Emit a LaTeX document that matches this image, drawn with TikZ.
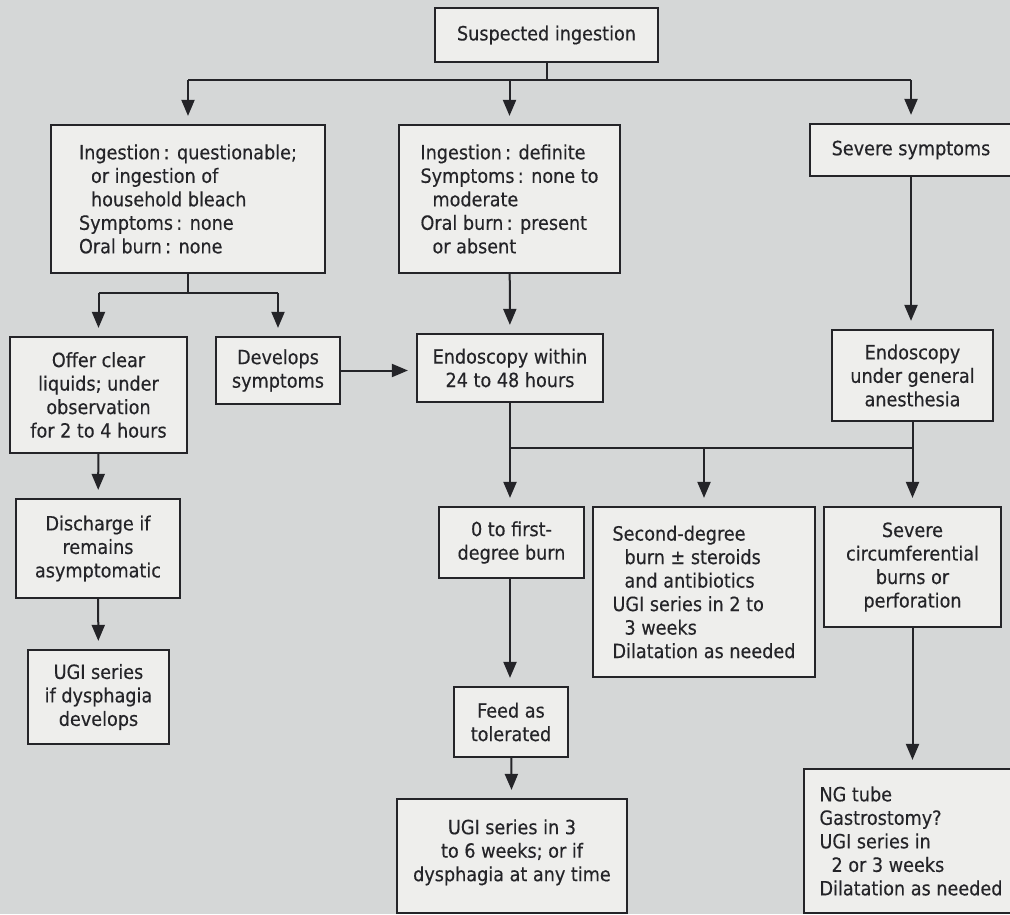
\documentclass[tikz,border=0pt]{standalone}
\usepackage{fontspec}
\setmainfont{DejaVu Sans Condensed}
\usetikzlibrary{arrows.meta}
\definecolor{paper}{RGB}{213,215,215}
\definecolor{boxfill}{RGB}{238,238,236}
\definecolor{ink}{RGB}{36,36,40}

\begin{document}
\begin{tikzpicture}[x=0.5pt,y=-0.5pt,
        box/.style={draw=ink,fill=boxfill,line width=1.1pt,inner sep=0pt,text=ink,align=center,
            font=\fontsize{9.8}{11.75}\selectfont\addfontfeature{FakeBold=0.3}},
        link/.style={draw=ink,line width=1pt},
        arr/.style={link,-{Triangle[length=8pt,width=6.5pt]},shorten >=4pt}]
                \clip (0,0) rectangle (1010,914);
                \fill[paper] (0,0) rectangle (1010,914);
                \node[box,minimum width=111.5pt,minimum height=27pt] (susp) at (546.5,35) {Suspected ingestion};
                \node[box,align=left,minimum width=137pt,minimum height=74pt] (quest) at (188,199)
                    {Ingestion\,: questionable;\\\hspace*{6pt}or ingestion of\\\hspace*{6pt}household bleach\\Symptoms\,: none\\Oral burn\,: none};
                \node[box,align=left,minimum width=110.5pt,minimum height=74pt] (defin) at (509.5,199)
                    {Ingestion\,: definite\\Symptoms\,: none to\\\hspace*{6pt}moderate\\Oral burn\,: present\\\hspace*{6pt}or absent};
                \node[box,minimum width=101pt,minimum height=26pt] (severe) at (911,150) {Severe symptoms};
                \node[box,minimum width=88.5pt,minimum height=58pt] (offer) at (98.5,395)
                    {Offer clear\\liquids; under\\observation\\for 2 to 4 hours};
                \node[box,minimum width=62pt,minimum height=33.5pt] (develops) at (278,370.5) {Develops\\symptoms};
                \node[box,minimum width=93pt,minimum height=34pt] (endo) at (510,368) {Endoscopy within\\24 to 48 hours};
                \node[box,minimum width=80.5pt,minimum height=45.5pt] (general) at (912.5,375.5)
                    {Endoscopy\\under general\\anesthesia};
                \node[box,minimum width=72.5pt,minimum height=35.5pt] (first) at (511.5,542.5) {0 to first-\\degree burn};
                \node[box,align=left,minimum width=111pt,minimum height=85pt] (second) at (704,592)
                    {Second-degree\\\hspace*{6pt}burn ± steroids\\\hspace*{6pt}and antibiotics\\UGI series in 2 to\\\hspace*{6pt}3 weeks\\Dilatation as needed};
                \node[box,minimum width=88.5pt,minimum height=60pt] (circum) at (912.5,567)
                    {Severe\\circumferential\\burns or\\perforation};
                \node[box,minimum width=82pt,minimum height=49.5pt] (discharge) at (98,548.5)
                    {Discharge if\\remains\\asymptomatic};
                \node[box,minimum width=70.5pt,minimum height=47pt] (ugiA) at (98.5,697)
                    {UGI series\\if dysphagia\\develops};
                \node[box,minimum width=57pt,minimum height=35pt] (feed) at (511,722) {Feed as\\tolerated};
                \node[box,minimum width=115pt,minimum height=57pt] (ugiB) at (512,856)
                    {UGI series in 3\\to 6 weeks; or if\\dysphagia at any time\\[-6pt]~};
                \node[box,align=left,minimum width=107pt,minimum height=72pt] (ngtube) at (911,841)
                    {NG tube\\Gastrostomy?\\UGI series in\\\hspace*{6pt}2 or 3 weeks\\Dilatation as needed};
                \coordinate (splitA) at (546.5,80);
                \coordinate (splitB) at (188,293);
                \coordinate (splitC) at (510,448);
                \draw[link] (susp.south) -- (splitA);
                \draw[link] (splitA -| quest) -- (splitA -| severe);
                \draw[arr] (splitA -| quest) -- (quest);
                \draw[arr] (splitA -| defin) -- (defin);
                \draw[arr] (splitA -| severe) -- (severe);
                \draw[link] (quest.south) -- (splitB);
                \draw[link] (splitB -| offer) -- (splitB -| develops);
                \draw[arr] (splitB -| offer) -- (offer);
                \draw[arr] (splitB -| develops) -- (develops);
                \draw[arr] (develops.east) -- (develops.east -| endo.west);
                \draw[arr] (defin) -- (endo);
                \draw[arr] (severe.south) -- (severe.south |- general.north);
                \draw[link] (endo.south) -- (splitC) -- (splitC -| general);
                \draw[arr] (splitC) -- (splitC |- first.north);
                \draw[arr] (splitC -| second) -- (second);
                \draw[arr] (general.south) -- (circum);
                \draw[arr] (offer) -- (discharge);
                \draw[arr] (discharge) -- (ugiA);
                \draw[arr] (first.south -| splitC) -- (feed.north -| splitC);
                \draw[arr] (feed) -- (ugiB);
                \draw[arr] (circum.south) -- (circum.south |- ngtube.north);
            \end{tikzpicture}
\end{document}
